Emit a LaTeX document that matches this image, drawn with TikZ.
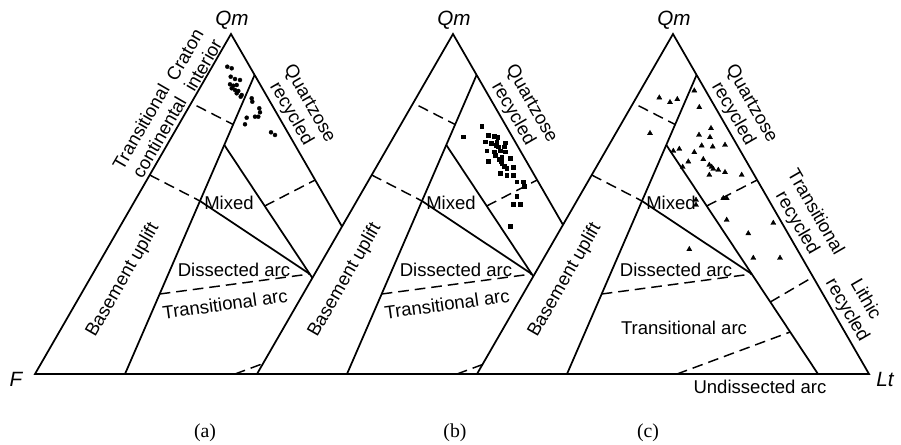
\documentclass[tikz,border=0pt]{standalone}
\usepackage{fontspec}
\setmainfont{Liberation Sans}
\newfontfamily\qflserif{Liberation Serif}
\usetikzlibrary{
    calc,
    plotmarks,
    positioning
}
\newcommand\qflfont{\fontsize{13.9}{15.8}\selectfont}
\newcommand\qflpole{\fontsize{15.5}{17}\selectfont\itshape}
\newcommand\qflcap{\qflserif\fontsize{14.8}{16}\selectfont}
\tikzset{
    % Line styles
    field edge/.style={
        line width=1.3pt,
        line join=miter
    },
    field bound/.style={
        line width=1.1pt,
        dash pattern=on 8pt off 4.5pt
    },
    % Label styles
    field label/.style={
        font=\qflfont,
        inner sep=0pt,
        align=center
    },
    pole label/.style={
        font=\qflpole,
        inner sep=0pt
    },
    caption label/.style={
        font=\qflcap,
        inner sep=0pt
    },
    % Sample marks
    sample dots/.style={
        only marks,
        mark=*,
        mark size=1.5pt,
        mark options={line width=0.3pt}
    },
    sample squares/.style={
        only marks,
        mark=square*,
        mark size=1.4pt,
        mark options={line width=0.3pt}
    },
    sample triangles/.style={
        only marks,
        mark=triangle*,
        mark size=2.2pt,
        mark options={line width=0.3pt}
    }
}

\begin{document}
\begin{tikzpicture}[x=0.75pt, y=-0.75pt]
    \useasboundingbox (0,0) rectangle (901,445);

    \foreach \tri/\dx/\capx in {a/0/205, b/222/233, c/442/206}{
        \begin{scope}[shift={(\dx,0)}]
            % corners and break points
            \coordinate (F-\tri)  at (35,374);
            \coordinate (Qm-\tri) at (231,34);
            \coordinate (Lt-\tri) at (427,374);
            \coordinate (k1-\tri) at (254.6,75);
            \coordinate (k2-\tri) at (125,374);
            \coordinate (m1-\tri) at (224.3,145);
            \coordinate (m2-\tri) at (200,201);
            \coordinate (p-\tri)  at (309.8,274);
            \coordinate (r1-\tri) at (376,374);

            \draw[field edge, fill=white] (F-\tri) -- (Qm-\tri) -- (Lt-\tri) -- cycle;
            \draw[field edge] (k1-\tri) -- (k2-\tri);
            \draw[field edge] (m1-\tri) -- (r1-\tri);
            \draw[field edge] (m2-\tri) -- (p-\tri);

            % dashed field limits
            \coordinate (d1-\tri) at (191.2,103);
            \coordinate (e1-\tri) at (233.1,124.5);
            \coordinate (d2-\tri) at (149.7,175);
            \coordinate (d3-\tri) at (159.7,294);
            \coordinate (d4-\tri) at (235,374);
            \coordinate (e4-\tri) at (348.2,332);
            \coordinate (d5-\tri) at (264.7,206);
            \coordinate (e5-\tri) at (315.2,180);
            \coordinate (d6-\tri) at (328.3,302);
            \coordinate (e6-\tri) at (371,277);

            \draw[field bound, dash phase=8pt] (d1-\tri) -- (e1-\tri);
            \draw[field bound] (d2-\tri) -- (m2-\tri);
            \draw[field bound] (d3-\tri) -- (p-\tri);
            \draw[field bound] (d4-\tri) -- (e4-\tri);
            \draw[field bound] (d5-\tri) -- (e5-\tri);
            \draw[field bound] (d6-\tri) -- (e6-\tri);

            \node[pole label] (qm-\tri) at (232,20) {Qm};
            \node[field label, rotate=60] (bu-\tri) at (123,280) {Basement uplift};
            \node[field label] (mx-\tri) at (229,203) {Mixed};
            \node[field label] (da-\tri) at (234,270) {Dissected arc};
            \node[field label, rotate=-60] (qr-\tri) at (300,109) {Quartzose\\recycled};
            \node[caption label] (cap-\tri) at (\capx,433) {(\tri)};
        \end{scope}
    }

    \node[pole label] (F) at (16,379) {F};
    \node[pole label] (Lt) at (885,379) {Lt};

    \node[field label, rotate=60] (tc-a) at (150,132) {Transitional\\continental};
    \node[field label, rotate=60] (ci-a) at (194,60) {Craton\\interior};
    \node[field label, rotate=8] (ta-a) at (225,304) {Transitional arc};
    \node[field label, rotate=8] (ta-b) at (447,304) {Transitional arc};
    \node[field label] (ta-c) at (684,328) {Transitional arc};
    \node[field label] (ua-c) at (760,387) {Undissected arc};
    \node[field label, rotate=-60] (tr-c) at (806,218) {Transitional\\recycled};
    \node[field label, rotate=-60] (lr-c) at (856,305) {Lithic\\recycled};

    % samples (a)
    \draw plot[sample dots] coordinates {
        (227.3,66.7) (231.7,68.3) (230.7,76.7) (235,79) (240,80)
        (230,84.3) (233.3,85.7) (236.7,85) (231.7,88.3) (235,90)
        (238.3,91) (236.7,93.3) (241.7,95) (240.7,96.7) (251.7,98.3)
        (252.3,101.7) (259.3,108.3) (260,112.3) (258.3,116.7) (255,116.7)
        (246.7,117.7) (245,124.3) (271,132.3) (275,135)};

    % samples (b)
    \draw plot[sample squares] coordinates {
        (481.7,126) (463.3,136.7) (488.3,135) (494.3,136) (497.7,137.3)
        (485,141.7) (491,143.3) (496.7,141.7) (498.3,146.7) (496,145)
        (505,142.7) (504.3,146.7) (486.7,150.7) (494.3,151.7) (500,150.7)
        (505,151.7) (495,155) (501.7,156.7) (488.3,161) (499.3,159.3)
        (501,161) (510,158.3) (501.7,163.3) (504.3,166) (506.7,168.3)
        (513.3,167.3) (500,173.3) (506.7,175) (513.3,175) (516.7,181.7)
        (523.3,181.7) (524.3,186) (516.7,196) (513.3,204) (520,204)
        (510,226)};

    % samples (c)
    \draw plot[sample triangles] coordinates {
        (694.3,90.7) (659.3,97.7) (670,102.3) (677.3,99.3) (699.3,107.3)
        (650,133.3) (711,128.3) (699,135) (710,137.3) (701.7,145.7)
        (712.7,146.7) (725,145) (673.3,151) (679.3,149) (694.3,152.3)
        (688.3,161.7) (703.3,159.3) (682.7,167) (709.3,165) (711.7,167)
        (713.3,169) (718.3,170) (725,172.3) (709.3,175) (741.7,175)
        (723.3,198.3) (726.7,198.3) (696,200) (696,205) (726.7,220)
        (773.3,223) (748.3,233.5) (689.3,249.3) (753.3,258) (780,258)};
\end{tikzpicture}
\end{document}
